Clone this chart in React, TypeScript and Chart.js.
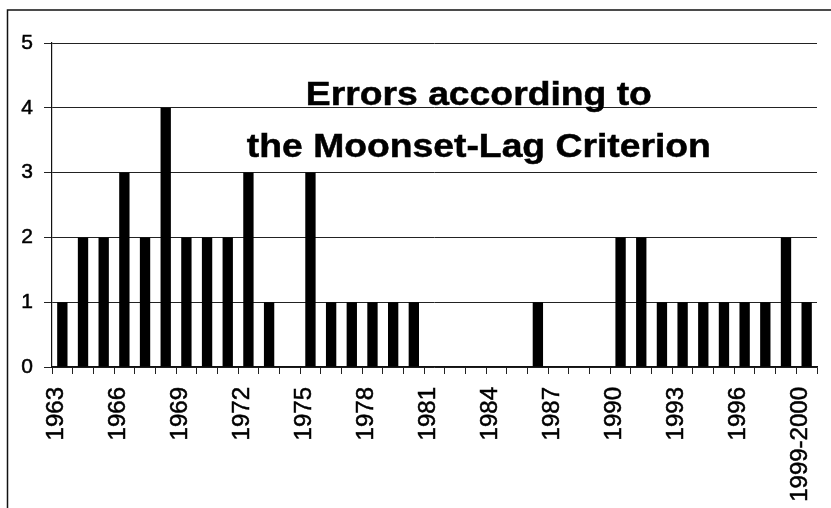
import React, { useEffect, useRef } from "react";
import { Chart, registerables } from "chart.js";

Chart.register(...registerables);

const categories = [
  "1963", "1964", "1965", "1966", "1967", "1968", "1969", "1970", "1971", "1972",
  "1973", "1974", "1975", "1976", "1977", "1978", "1979", "1980", "1981", "1982",
  "1983", "1984", "1985", "1986", "1987", "1988", "1989", "1990", "1991", "1992",
  "1993", "1994", "1995", "1996", "1997", "1998", "1999-2000",
];

const errors = [
  1, 2, 2, 3, 2, 4, 2, 2, 2, 3,
  1, 0, 3, 1, 1, 1, 1, 1, 0, 0,
  0, 0, 0, 1, 0, 0, 0, 2, 2, 1,
  1, 1, 1, 1, 1, 2, 1,
];

const xTickLabels = [
  "1963", "1966", "1969", "1972", "1975", "1978", "1981",
  "1984", "1987", "1990", "1993", "1996", "1999-2000",
];

const yTicks = [0, 1, 2, 3, 4, 5];

const titleLines = ["Errors according to", "the Moonset-Lag Criterion"];

const framePlugin = {
  id: "frame",
  beforeDraw(chart: any) {
    const ctx = chart.ctx;
    ctx.save();
    ctx.fillStyle = "#ffffff";
    ctx.fillRect(0, 0, chart.width, chart.height);
    ctx.strokeStyle = "#111111";
    ctx.lineWidth = 1.5;
    ctx.strokeRect(7.5, 10, chart.width + 20, chart.height + 20);
    ctx.restore();
  },
};

const innerTitlePlugin = {
  id: "innerTitle",
  afterDatasetsDraw(chart: any) {
    const { ctx, chartArea } = chart;
    const cx = chartArea.left + (chartArea.right - chartArea.left) * 0.558;
    const h = chartArea.bottom - chartArea.top;
    const baselines = [chartArea.top + h * 0.191, chartArea.top + h * 0.352];
    ctx.save();
    ctx.fillStyle = "#000000";
    ctx.strokeStyle = "#000000";
    ctx.lineWidth = 0.5;
    ctx.font = "bold 33px 'Liberation Sans', Arial, sans-serif";
    ctx.textAlign = "center";
    ctx.textBaseline = "alphabetic";
    titleLines.forEach((line, i) => {
      ctx.save();
      ctx.translate(cx, baselines[i]);
      ctx.scale(1.13, 1);
      ctx.fillText(line, 0, 0);
      ctx.strokeText(line, 0, 0);
      ctx.restore();
    });
    ctx.restore();
  },
};

export default function App() {
  const canvasRef = useRef<HTMLCanvasElement | null>(null);

  useEffect(() => {
    document.body.style.margin = "0";
    document.body.style.overflow = "hidden";
    const canvas = canvasRef.current;
    if (!canvas) return;
    const family = "'Liberation Sans', Arial, sans-serif";
    const chart = new Chart(canvas, {
      type: "bar",
      data: {
        labels: categories,
        datasets: [
          {
            label: "Errors",
            data: errors,
            backgroundColor: "#000000",
            borderWidth: 0,
            barPercentage: 0.5,
            categoryPercentage: 1.0,
          },
        ],
      },
      plugins: [framePlugin, innerTitlePlugin],
      options: {
        animation: false,
        responsive: false,
        devicePixelRatio: 1,
        layout: { padding: { top: 43, right: 14, left: 0, bottom: 0 } },
        plugins: {
          legend: { display: false },
          title: { display: false },
          tooltip: { enabled: false },
        },
        scales: {
          x: {
            offset: true,
            grid: {
              offset: true,
              drawOnChartArea: false,
              drawTicks: true,
              tickLength: 7,
              color: "#222222",
              lineWidth: 1,
            },
            border: { display: true, color: "#111111", width: 1.2 },
            ticks: {
              autoSkip: false,
              maxRotation: 90,
              minRotation: 90,
              padding: 13,
              labelOffset: -6,
              color: "#000000",
              textStrokeColor: "#000000",
              textStrokeWidth: 0.5,
              font: { family, size: 24 },
              callback: (_v: any, i: number) =>
                xTickLabels.includes(categories[i]) ? categories[i] : "",
            },
            afterFit: (scale: any) => {
              scale.height = 141;
              scale.paddingLeft = 0;
              scale.paddingRight = 0;
            },
          },
          y: {
            min: yTicks[0],
            max: yTicks[yTicks.length - 1],
            afterBuildTicks: (scale: any) => {
              scale.ticks = yTicks.map((v) => ({ value: v }));
            },
            grid: {
              color: "#222222",
              lineWidth: 1,
              drawTicks: true,
              tickLength: 8,
            },
            border: { display: true, color: "#111111", width: 1.2 },
            ticks: {
              padding: 11,
              color: "#000000",
              textStrokeColor: "#000000",
              textStrokeWidth: 0.5,
              font: { family, size: 21 },
            },
            afterFit: (scale: any) => {
              scale.width = 52;
            },
          },
        },
      },
    });
    return () => chart.destroy();
  }, []);

  return (
    <div style={{ width: 831, height: 508, position: "relative", overflow: "hidden" }}>
      <canvas ref={canvasRef} width={831} height={508} style={{ display: "block" }} />
    </div>
  );
}
